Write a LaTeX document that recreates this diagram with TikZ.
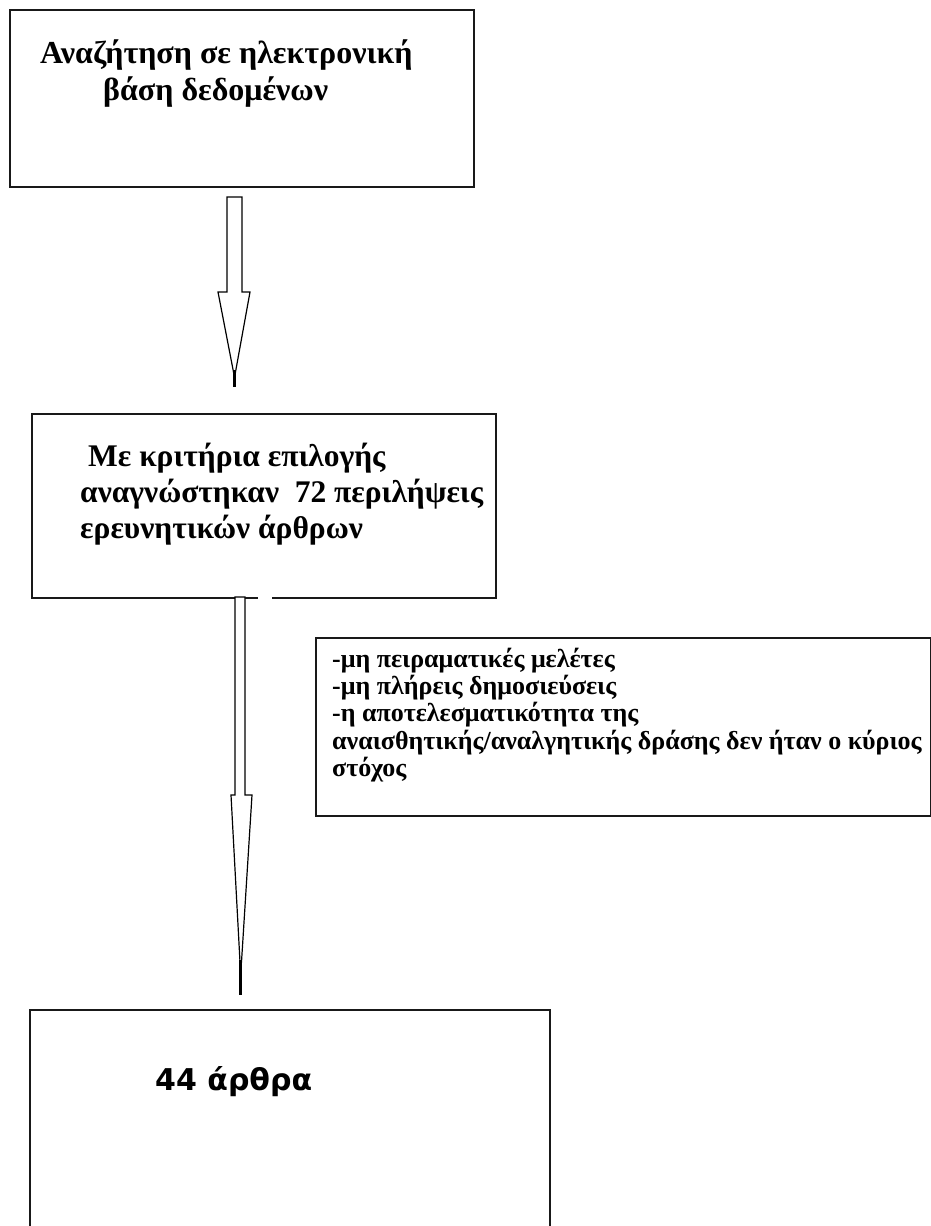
\documentclass[tikz,border=0pt]{standalone}
\usepackage{fontspec}
\setmainfont{Liberation Serif}
\newfontfamily\boxsans{DejaVu Sans}
\begin{document}
\begin{tikzpicture}[x=1pt,y=-1pt,
  frame/.style={draw=black!90, line width=1.6pt, anchor=north west, inner sep=0pt},
  big/.style={font=\fontsize{32}{36}\selectfont\bfseries, inner sep=0pt, anchor=base west},
  mid/.style={font=\fontsize{31.5}{36}\selectfont\bfseries, inner sep=0pt, anchor=base west},
  small/.style={font=\fontsize{26}{28}\selectfont\bfseries, inner sep=0pt, anchor=base west},
  blockarrow/.style={draw=black, line width=1.2pt, fill=white, line join=miter}]
\useasboundingbox (0,0) rectangle (931,1226);
\fill[white] (0,0) rectangle (931,1226);
% boxes
\node[frame, minimum width=464pt, minimum height=177pt] (b1) at (9,9) {};
\node[frame, minimum width=464pt, minimum height=184pt] (b2) at (31,413) {};
\node[frame, minimum width=615pt, minimum height=178pt] (b3) at (315,637) {};
\node[frame, minimum width=520pt, minimum height=260pt] (b4) at (29,1009) {};
% gap in bottom edge of b2
\fill[white] (258,594) rectangle (272,600);
% texts
\node[big] (t1a) at (40,63) {Αναζήτηση σε ηλεκτρονική};
\node[big] (t1b) at (103,100) {βάση δεδομένων};
\node[mid] (t2a) at (88,466) {Με κριτήρια επιλογής};
\node[mid] (t2b) at (80,502) {αναγνώστηκαν\hspace{0.25em} 72 περιλήψεις};
\node[mid] (t2c) at (80,538) {ερευνητικών άρθρων};
\node[small] (t3a) at (332,667) {-μη πειραματικές μελέτες};
\node[small] (t3b) at (332,694) {-μη πλήρεις δημοσιεύσεις};
\node[small] (t3c) at (332,721) {-η αποτελεσματικότητα της};
\node[small] (t3d) at (332,749) {αναισθητικής/αναλγητικής δράσης δεν ήταν ο κύριος};
\node[small] (t3e) at (332,776) {στόχος};
\node[font=\boxsans\fontsize{30}{34}\selectfont\bfseries, inner sep=0pt, anchor=base west] (t4) at (155,1090) {44 άρθρα};
% arrow 1 (box b1 to box b2)
\draw[blockarrow] (227,197) -- (242,197) -- (242,292) -- (250,292) -- (235.5,372) -- (233.5,372) -- (218,292) -- (227,292) -- cycle;
\draw[line width=2.4pt] (234.5,370) -- (234.5,387);
% arrow 2 (box b2 to box b4)
\draw[blockarrow] (235,597) -- (245,597) -- (245,795) -- (252,795) -- (241.5,962) -- (240,962) -- (231,795) -- (235,795) -- cycle;
\draw[line width=2.4pt] (240.5,960) -- (240.5,995);
\end{tikzpicture}
\end{document}
